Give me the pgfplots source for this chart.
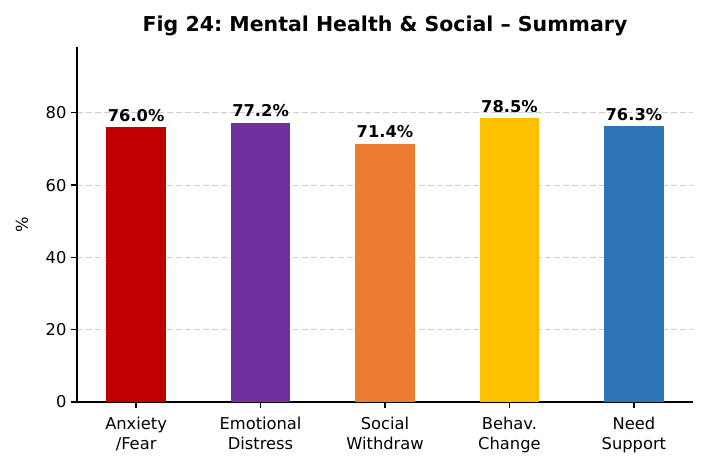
\documentclass[border=0pt]{standalone}
\usepackage{pgfplots}
\pgfplotsset{compat=1.18}
\usepackage{fontspec}
\setmainfont{DejaVu Sans}
\frenchspacing
\definecolor{c1}{HTML}{C00000}
\definecolor{c2}{HTML}{7030A0}
\definecolor{c3}{HTML}{ED7D31}
\definecolor{c4}{HTML}{FFC000}
\definecolor{c5}{HTML}{2E75B6}
\definecolor{gridc}{HTML}{CFCFCF}
\newcommand\tickfont{\fontsize{16.3}{19.6}\selectfont}
\newcommand\titlefont{\fontsize{20.5}{24}\selectfont\bfseries}
\begin{document}
\begin{tikzpicture}
\path[use as bounding box] (-77pt,-68pt) rectangle (630pt,402pt);
\begin{axis}[
  at={(0pt,0pt)}, anchor=south west,
  scale only axis, width=616pt, height=355pt,
  xmin=-0.475, xmax=4.475, ymin=0, ymax=98.2,
  enlargelimits=false,
  /pgf/number format/assume math mode=true,
  ybar, bar width=0.48,
  axis x line*=bottom, axis y line*=left,
  axis line style={-, line width=1.3pt, black},
  xtick={0,1,2,3,4},
  xticklabels={{Anxiety\\/Fear},{Emotional\\Distress},{Social\\Withdraw},{Behav.\\Change},{Need\\Support}},
  ytick={0,20,40,60,80},
  tick align=outside,
  major tick length=6pt,
  tick style={line width=1.3pt, black},
  tick label style={font=\tickfont},
  x tick label style={align=center, yshift=-6pt},
  y tick label style={xshift=-1pt},
  ymajorgrids,
  major grid style={gridc, line width=1.1pt, dash pattern=on 6pt off 3pt},
  ylabel={\%},
  ylabel style={font=\tickfont, at={(axis description cs:-0.0893,0.4986)}, anchor=center},
  title={Fig 24: Mental Health \& Social -- Summary},
  title style={font=\titlefont, at={(axis description cs:0.5,1)}, anchor=base, yshift=9pt},
  nodes near coords={\pgfmathprintnumber[fixed,fixed zerofill,precision=1]{\pgfplotspointmeta}\%},
  every node near coord/.append style={font=\tickfont\bfseries, anchor=base, yshift=6pt, black},
]
\addplot[fill=c1, draw=none, bar shift=0pt] coordinates {(0,76.0)};
\addplot[fill=c2, draw=none, bar shift=0pt] coordinates {(1,77.2)};
\addplot[fill=c3, draw=none, bar shift=0pt] coordinates {(2,71.4)};
\addplot[fill=c4, draw=none, bar shift=0pt] coordinates {(3,78.5)};
\addplot[fill=c5, draw=none, bar shift=0pt] coordinates {(4,76.3)};
\end{axis}
\end{tikzpicture}
\end{document}
